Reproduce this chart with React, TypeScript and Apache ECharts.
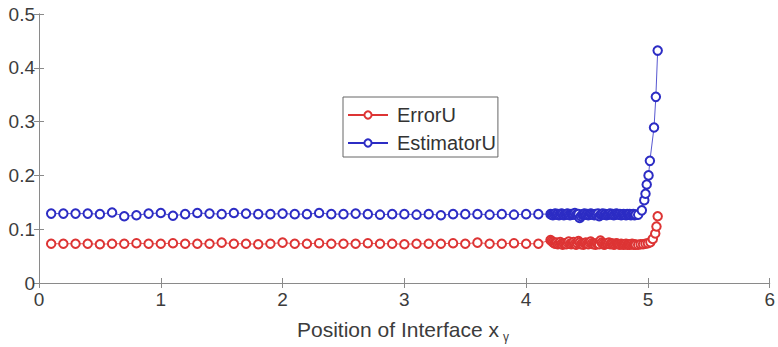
import React, { useEffect, useRef } from "react";
import * as echarts from "echarts";

// Coarse region (shared x, step 0.1)
const xCoarse = [0.1,0.2,0.3,0.4,0.5,0.6,0.7,0.8,0.9,1.0,1.1,1.2,1.3,1.4,1.5,1.6,1.7,1.8,1.9,2.0,2.1,2.2,2.3,2.4,2.5,2.6,2.7,2.8,2.9,3.0,3.1,3.2,3.3,3.4,3.5,3.6,3.7,3.8,3.9,4.0,4.1];
const estimatorCoarse = [0.129,0.129,0.129,0.129,0.128,0.131,0.124,0.126,0.129,0.130,0.125,0.128,0.130,0.129,0.128,0.130,0.129,0.128,0.128,0.129,0.128,0.128,0.130,0.128,0.128,0.129,0.128,0.127,0.128,0.128,0.127,0.128,0.126,0.128,0.128,0.128,0.127,0.128,0.127,0.128,0.128];
const errorCoarse = [0.073,0.073,0.073,0.073,0.072,0.073,0.073,0.074,0.073,0.073,0.074,0.073,0.073,0.073,0.075,0.073,0.073,0.072,0.073,0.075,0.073,0.073,0.074,0.073,0.073,0.073,0.074,0.073,0.073,0.072,0.073,0.073,0.073,0.074,0.073,0.075,0.073,0.073,0.074,0.073,0.073];

// Dense region (shared x, step 0.01)
const xDense = [
  4.20,4.21,4.22,4.23,4.24,4.25,4.26,4.27,4.28,4.29,
  4.30,4.31,4.32,4.33,4.34,4.35,4.36,4.37,4.38,4.39,
  4.40,4.41,4.42,4.43,4.44,4.45,4.46,4.47,4.48,4.49,
  4.50,4.51,4.52,4.53,4.54,4.55,4.56,4.57,4.58,4.59,
  4.60,4.61,4.62,4.63,4.64,4.65,4.66,4.67,4.68,4.69,
  4.70,4.71,4.72,4.73,4.74,4.75,4.76,4.77,4.78,4.79,
  4.80,4.81,4.82,4.83,4.84,4.85,4.86,4.87,4.88,4.89,4.90,
];
const estimatorDense = [
  0.128,0.127,0.126,0.128,0.129,0.127,0.128,0.126,0.127,0.129,
  0.128,0.126,0.127,0.128,0.129,0.127,0.126,0.128,0.127,0.128,
  0.130,0.127,0.126,0.128,0.121,0.124,0.127,0.128,0.129,0.127,
  0.128,0.126,0.127,0.129,0.128,0.127,0.126,0.128,0.127,0.129,
  0.124,0.127,0.128,0.129,0.127,0.128,0.126,0.127,0.128,0.129,
  0.127,0.128,0.126,0.127,0.129,0.128,0.127,0.128,0.126,0.127,
  0.128,0.127,0.126,0.128,0.127,0.128,0.126,0.127,0.128,0.126,0.127,
];
const errorDense = [
  0.080,0.078,0.076,0.074,0.073,0.075,0.072,0.074,0.076,0.073,
  0.071,0.073,0.074,0.072,0.075,0.077,0.073,0.072,0.074,0.076,
  0.073,0.071,0.074,0.078,0.075,0.072,0.073,0.071,0.074,0.075,
  0.073,0.072,0.075,0.077,0.074,0.072,0.073,0.071,0.074,0.073,
  0.072,0.079,0.075,0.073,0.071,0.072,0.074,0.073,0.075,0.072,
  0.074,0.073,0.071,0.072,0.074,0.073,0.072,0.071,0.073,0.072,
  0.071,0.072,0.073,0.071,0.072,0.071,0.072,0.073,0.071,0.072,0.071,
];

// Tails
const xEstimatorTail = [4.92,4.95,4.97,4.98,4.99,5.005,5.016,5.05,5.065,5.08];
const estimatorTail = [0.127,0.135,0.154,0.166,0.183,0.200,0.227,0.289,0.346,0.432];
const xErrorTail = [4.92,4.94,4.96,4.98,5.00,5.02,5.04,5.06,5.07,5.08];
const errorTail = [0.071,0.072,0.072,0.073,0.074,0.076,0.082,0.092,0.105,0.124];

const xTicks = [0, 1, 2, 3, 4, 5, 6];
const yTicks = [0, 0.1, 0.2, 0.3, 0.4, 0.5];

const pairs = (xs: number[], ys: number[]) => xs.map((x, i) => [x, ys[i]]);

const errorData = [
  ...pairs(xCoarse, errorCoarse),
  ...pairs(xDense, errorDense),
  ...pairs(xErrorTail, errorTail),
];
const estimatorData = [
  ...pairs(xCoarse, estimatorCoarse),
  ...pairs(xDense, estimatorDense),
  ...pairs(xEstimatorTail, estimatorTail),
];

const FONT = "'Liberation Sans', Arial, Helvetica, sans-serif";
const AXIS_COLOR = "#8a8a8a";
const LABEL_COLOR = "#3c3c3c";
const RED = "#dd3434";
const BLUE = "#2c2cc4";

export default function App() {
  const ref = useRef<HTMLDivElement>(null);
  useEffect(() => {
    if (!ref.current) return;
    const chart = echarts.init(ref.current, null, { renderer: "svg" });
    const xMin = xTicks[0], xMax = xTicks[xTicks.length - 1];
    const yMin = yTicks[0], yMax = yTicks[yTicks.length - 1];
    const baseAxisLine = { show: true, lineStyle: { color: AXIS_COLOR, width: 1 } };
    const tick = { show: true, inside: true, length: 5, lineStyle: { color: AXIS_COLOR } };
    chart.setOption({
      animation: false,
      backgroundColor: "#ffffff",
      textStyle: { fontFamily: FONT },
      grid: { left: 39, right: 1, top: 14, bottom: 64, containLabel: false },
      xAxis: [
        {
          type: "value", min: xMin, max: xMax, interval: 1, position: "bottom",
          axisLine: baseAxisLine, axisTick: tick, splitLine: { show: false },
          axisLabel: { color: LABEL_COLOR, fontSize: 19, margin: 7, fontFamily: FONT },
        },
        {
          type: "value", min: xMin, max: xMax, interval: 1, position: "top",
          axisLine: baseAxisLine, axisTick: tick, splitLine: { show: false },
          axisLabel: { show: false },
        },
      ],
      yAxis: [
        {
          type: "value", min: yMin, max: yMax, interval: 0.1, position: "left",
          axisLine: baseAxisLine, axisTick: tick, splitLine: { show: false },
          axisLabel: { color: LABEL_COLOR, fontSize: 19, margin: 4, fontFamily: FONT },
        },
        {
          type: "value", min: yMin, max: yMax, interval: 0.1, position: "right",
          axisLine: baseAxisLine, axisTick: tick, splitLine: { show: false },
          axisLabel: { show: false },
        },
      ],
      legend: {
        data: ["ErrorU", "EstimatorU"],
        orient: "vertical",
        left: 343,
        top: 97,
        padding: [8, 2, 4, 4],
        itemGap: 8,
        itemWidth: 40,
        itemHeight: 9,
        backgroundColor: "#ffffff",
        borderColor: "#666666",
        borderWidth: 1,
        borderRadius: 0,
        textStyle: { fontSize: 20, color: "#333333", fontFamily: FONT, padding: [0, 0, 0, 4] },
      },
      graphic: [
        {
          type: "text", left: 297, top: 319,
          style: { text: "Position of Interface x", fontSize: 21, fill: LABEL_COLOR, fontFamily: FONT },
        },
        {
          type: "text", left: 503, top: 331,
          style: { text: "γ", fontSize: 12, fill: LABEL_COLOR, fontFamily: FONT },
        },
      ],
      series: [
        {
          name: "ErrorU", type: "line", data: errorData,
          symbol: "emptyCircle", symbolSize: 8.5, showSymbol: true,
          lineStyle: { color: RED, width: 0.8 },
          itemStyle: { color: RED, borderColor: RED, borderWidth: 0.9 },
          emphasis: { disabled: true },
        },
        {
          name: "EstimatorU", type: "line", data: estimatorData,
          symbol: "emptyCircle", symbolSize: 8.5, showSymbol: true,
          lineStyle: { color: BLUE, width: 0.8 },
          itemStyle: { color: BLUE, borderColor: BLUE, borderWidth: 0.9 },
          emphasis: { disabled: true },
        },
      ],
    });
    return () => chart.dispose();
  }, []);
  return (
    <div
      ref={ref}
      style={{ position: "fixed", left: 0, top: 0, width: 778, height: 347, background: "#fff" }}
    />
  );
}
